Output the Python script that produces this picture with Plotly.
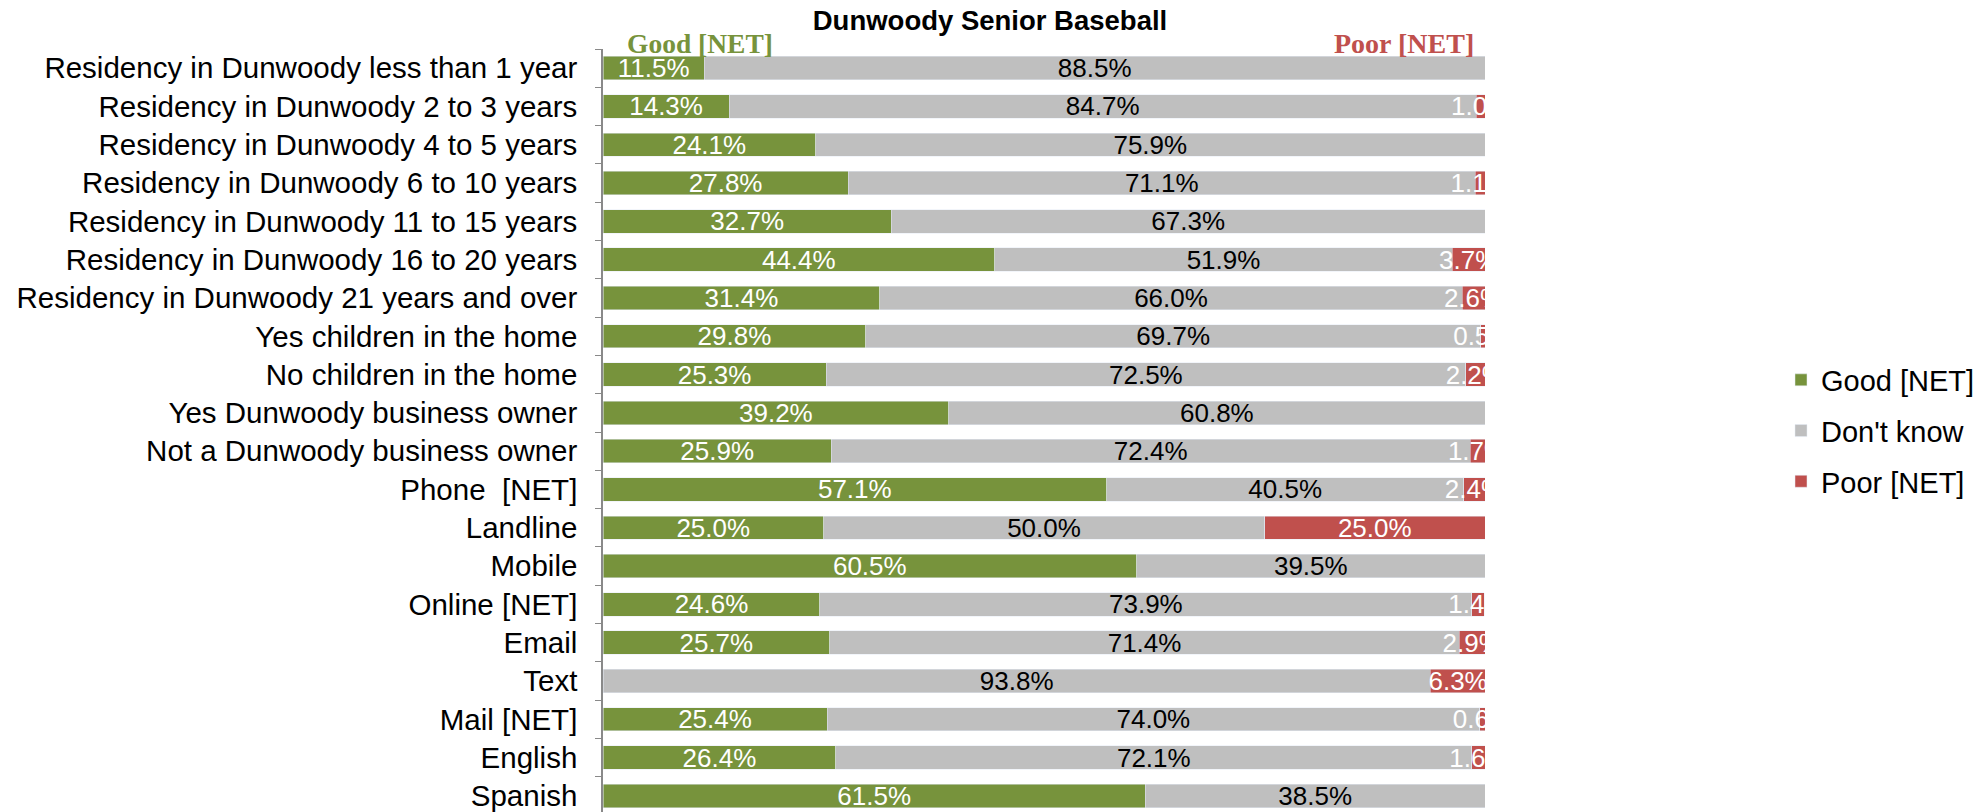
import plotly.graph_objects as go

# ---------------- data ----------------
categories = [
    "Residency in Dunwoody less than 1 year",
    "Residency in Dunwoody 2 to 3 years",
    "Residency in Dunwoody 4 to 5 years",
    "Residency in Dunwoody 6 to 10 years",
    "Residency in Dunwoody 11 to 15 years",
    "Residency in Dunwoody 16 to 20 years",
    "Residency in Dunwoody 21 years and over",
    "Yes children in the home",
    "No children in the home",
    "Yes Dunwoody business owner",
    "Not a Dunwoody business owner",
    "Phone  [NET]",
    "Landline",
    "Mobile",
    "Online [NET]",
    "Email",
    "Text",
    "Mail [NET]",
    "English",
    "Spanish",
]
good = [11.5, 14.3, 24.1, 27.8, 32.7, 44.4, 31.4, 29.8, 25.3, 39.2,
        25.9, 57.1, 25.0, 60.5, 24.6, 25.7, 0.0, 25.4, 26.4, 61.5]
dont_know = [88.5, 84.7, 75.9, 71.1, 67.3, 51.9, 66.0, 69.7, 72.5, 60.8,
             72.4, 40.5, 50.0, 39.5, 73.9, 71.4, 93.8, 74.0, 72.1, 38.5]
poor = [0.0, 1.0, 0.0, 1.1, 0.0, 3.7, 2.6, 0.5, 2.2, 0.0,
        1.7, 2.4, 25.0, 0.0, 1.4, 2.9, 6.3, 0.6, 1.6, 0.0]

FONT = "Liberation Sans, Arial, sans-serif"
SERIF = "Liberation Serif, Times New Roman, serif"

# page body adds an 8px offset, so everything is shifted up/left by 8px
W, H = 1985, 812


def pct(vals):
    return [f"{v:.1f}%" if v > 0 else "" for v in vals]


series = [
    ("Good [NET]", good, "#77933C", "white"),
    ("Don't know", dont_know, "#BFBFBF", "black"),
    ("Poor [NET]", poor, "#C0504D", "white"),
]

fig = go.Figure()
for name, vals, color, tcolor in series:
    fig.add_trace(go.Bar(
        y=categories, x=vals, name=name, orientation="h",
        marker_color=color,
        text=pct(vals), textposition="inside", insidetextanchor="middle",
        textangle=0, constraintext="none", cliponaxis=True,
        textfont=dict(size=26, color=tcolor, family=FONT),
        legendgroup=name, hoverinfo="x+y+name",
    ))

fig.update_layout(
    width=W, height=H,
    margin=dict(l=595, r=508, t=41, b=0, pad=0, autoexpand=False),
    barmode="stack", bargap=0.39,
    plot_bgcolor="white", paper_bgcolor="white",
    font=dict(family=FONT, color="black"),
    title=dict(text="<b>Dunwoody Senior Baseball</b>", font=dict(size=27.5, family=FONT),
               x=982 / W, xref="container", xanchor="center",
               y=1 - 12 / H, yref="container", yanchor="middle"),
    legend=dict(x=1773 / W, y=1 - 423 / H, xref="container", yref="container",
                xanchor="left", yanchor="middle",
                font=dict(size=29, family=FONT), traceorder="grouped",
                tracegroupgap=10),
    annotations=[
        dict(text="<b>Good [NET]</b>", x=0.025, y=1.0065, xref="paper", yref="paper",
             xanchor="left", yanchor="middle", showarrow=False,
             font=dict(size=27.5, family=SERIF, color="#77933C")),
        dict(text="<b>Poor [NET]</b>", x=0.99, y=1.0065, xref="paper", yref="paper",
             xanchor="right", yanchor="middle", showarrow=False,
             font=dict(size=28, family=SERIF, color="#C0504D")),
    ],
)
fig.update_xaxes(range=[0, 100], visible=False, showgrid=False)
fig.update_yaxes(
    type="category", categoryorder="array", categoryarray=categories,
    range=[19.63, -0.5], autorange=False,
    showline=True, linecolor="#898989", linewidth=1.5,
    ticks="outside", tickson="boundaries", ticklen=6, tickcolor="#898989",
    tickfont=dict(size=29.5, color="black", family=FONT),
    showgrid=False, ticklabelstandoff=18, automargin=False,
)

fig.write_html("out.html")
